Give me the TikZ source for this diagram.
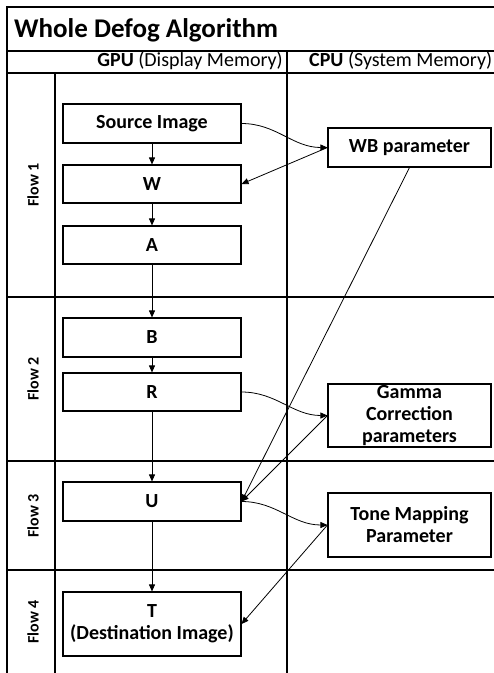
\documentclass[tikz,border=0pt]{standalone}
\usepackage{fontspec}
\setmainfont{Carlito}
\usetikzlibrary{arrows.meta}
\begin{document}
\begin{tikzpicture}[x=1pt,y=-1pt,
  grid/.style={line width=1.2pt},
  pbox/.style={draw,line width=1.1pt,minimum height=39pt,inner sep=0pt,align=center,
     font=\fontsize{20}{22}\selectfont\bfseries},
  gbox/.style={pbox,minimum width=178pt},
  cbox/.style={pbox,minimum width=163pt},
  flowlbl/.style={rotate=90,font=\fontsize{16}{16}\selectfont\bfseries},
  conn/.style={line width=0.8pt,-{Triangle[length=7pt,width=6pt]}},
  hdr/.style={font=\fontsize{20}{20}\selectfont,inner sep=0pt}]
\useasboundingbox (0,0) rectangle (494,673);
% table grid
\draw[grid] (7,673) -- (7,7) -- (500,7);
\draw[grid] (7,51) -- (500,51);
\draw[grid] (7,73) -- (500,73);
\draw[grid] (287,51) -- (287,673);
\draw[grid] (55,73) -- (55,673);
\draw[grid] (7,297) -- (500,297);
\draw[grid] (7,461) -- (500,461);
\draw[grid] (7,570) -- (500,570);
% texts
\node[anchor=base west,inner sep=0pt,font=\fontsize{27}{27}\selectfont\bfseries] (title) at (14,37) {Whole Defog Algorithm};
\node[hdr,anchor=base east] (gpu) at (283,66) {\textbf{GPU} (Display Memory)};
\node[hdr,anchor=base west] (cpu) at (309,66) {\textbf{CPU} (System Memory)};
\node[flowlbl] (f1) at (33,185) {Flow 1};
\node[flowlbl] (f2) at (33,379) {Flow 2};
\node[flowlbl] (f3) at (33,516) {Flow 3};
\node[flowlbl] (f4) at (33,622) {Flow 4};
% boxes
\node[gbox] (src) at (152,123.5) {Source Image};
\node[gbox,minimum height=38pt] (w) at (152,184) {W};
\node[gbox,minimum height=38pt] (a) at (152,245) {A};
\node[gbox] (b) at (152,337.5) {B};
\node[gbox,minimum height=38pt] (r) at (152,392) {R};
\node[gbox] (u) at (152,501.5) {U};
\node[gbox,minimum height=64pt] (t) at (152,624) {T\\(Destination Image)};
\node[cbox] (wb) at (409.5,147.5) {WB parameter};
\node[cbox,minimum height=63pt] (gam) at (409.5,415.5) {Gamma\\Correction\\parameters};
\node[cbox,minimum height=64pt] (tone) at (409.5,525) {Tone Mapping\\Parameter};
% connectors
\draw[conn] (src) -- (w);
\draw[conn] (w) -- (a);
\draw[conn] (a) -- (b);
\draw[conn] (b) -- (r);
\draw[conn] (r) -- (u);
\draw[conn] (u) -- (t);
\draw[conn] (src.east) to[out=0,in=180] (wb.west);
\draw[conn] (wb.west) -- (w.east);
\draw[conn] (wb.south) -- (u.east);
\draw[conn] (r.east) to[out=0,in=180] (gam.west);
\draw[conn] (gam.west) -- (u.east);
\draw[conn] (u.east) to[out=0,in=180] (tone.west);
\draw[conn] (tone.west) -- (t.east);
\end{tikzpicture}
\end{document}
